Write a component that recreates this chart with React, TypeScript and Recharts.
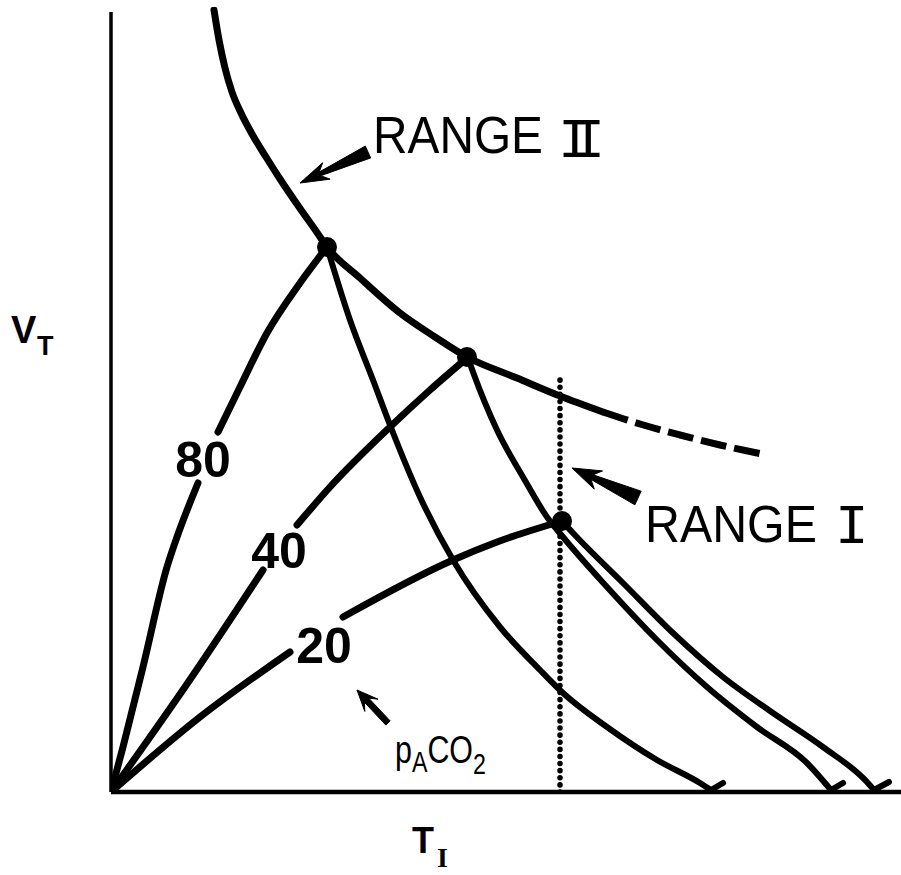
import React from "react";
import {
  ComposedChart,
  Line,
  XAxis,
  YAxis,
  ReferenceLine,
  ReferenceDot,
  Customized,
} from "recharts";

// Schematic units: T_I runs 0..790, V_T runs 0..785 (no tick values on the figure)
type Pt = { x: number; y: number | null };

// Range II boundary (hyperbola), solid part and dashed extension
const rangeTwo: Pt[] = [
  { x: 103, y: 782 }, { x: 108, y: 752 }, { x: 114, y: 724 }, { x: 121, y: 700 },
  { x: 130, y: 679 }, { x: 141, y: 658 }, { x: 155, y: 635 }, { x: 171, y: 610 },
  { x: 188, y: 585 }, { x: 205, y: 561 }, { x: 216, y: 545 }, { x: 249, y: 514 },
  { x: 289, y: 479 }, { x: 324, y: 455 }, { x: 356, y: 435 }, { x: 406, y: 414 },
  { x: 449, y: 396 }, { x: 492, y: 380 },
];
const rangeTwoDashed: Pt[] = [
  { x: 492, y: 380 }, { x: 529, y: 368 }, { x: 569, y: 357 }, { x: 609, y: 347 },
  { x: 656, y: 337 },
];

// pACO2 isopleths from the origin (null = gap for the number label)
const pco2_80: Pt[] = [
  { x: 0, y: 0 }, { x: 12, y: 45 }, { x: 32, y: 125 }, { x: 56, y: 225 },
  { x: 66, y: 255 }, { x: 87, y: 309 }, { x: 97, y: null }, { x: 107, y: 360 },
  { x: 129, y: 405 }, { x: 156, y: 459 }, { x: 189, y: 509 }, { x: 216, y: 545 },
];
const pco2_40: Pt[] = [
  { x: 0, y: 0 }, { x: 76, y: 108 }, { x: 152, y: 222 }, { x: 170, y: null },
  { x: 186, y: 267 }, { x: 219, y: 305 }, { x: 279, y: 365 }, { x: 319, y: 402 },
  { x: 356, y: 434 },
];
const pco2_20: Pt[] = [
  { x: 0, y: 0 }, { x: 89, y: 75 }, { x: 179, y: 140 }, { x: 205, y: null },
  { x: 232, y: 175 }, { x: 342, y: 232 }, { x: 386, y: 250 }, { x: 451, y: 271 },
];

// descending curves from each junction down to the T_I axis
const fall80: Pt[] = [
  { x: 216, y: 545 }, { x: 239, y: 472 }, { x: 262, y: 412 }, { x: 279, y: 367 },
  { x: 309, y: 295 }, { x: 342, y: 232 }, { x: 389, y: 165 }, { x: 429, y: 122 },
  { x: 452, y: 99 }, { x: 496, y: 65 }, { x: 546, y: 32 }, { x: 589, y: 9 },
  { x: 600, y: 2 },
];
const fall40: Pt[] = [
  { x: 357, y: 434 }, { x: 362, y: 420 }, { x: 386, y: 362 }, { x: 412, y: 315 },
  { x: 436, y: 275 }, { x: 452, y: 255 }, { x: 496, y: 205 }, { x: 546, y: 152 },
  { x: 596, y: 105 }, { x: 646, y: 65 }, { x: 696, y: 29 }, { x: 720, y: 2 },
];
const fall20: Pt[] = [
  { x: 451, y: 271 }, { x: 462, y: 259 }, { x: 512, y: 209 }, { x: 562, y: 159 },
  { x: 612, y: 115 }, { x: 662, y: 79 }, { x: 712, y: 45 }, { x: 756, y: 10 },
  { x: 763, y: 2 },
];

// little pen flicks where each curve meets the axis
const flicks: Pt[][] = [
  [{ x: 600, y: 2 }, { x: 612, y: 9 }],
  [{ x: 720, y: 2 }, { x: 732, y: 9 }],
  [{ x: 763, y: 2 }, { x: 778, y: 10 }],
];

const junctions = [
  { x: 216, y: 545 },
  { x: 356, y: 435 },
  { x: 451, y: 271 },
];

// Range I boundary (dotted vertical)
const rangeOne: Pt[] = [
  { x: 449, y: 0 },
  { x: 449, y: 415 },
];

// annotation arrows: [tail, tip]
const arrowRangeTwo = [{ x: 257, y: 640 }, { x: 189, y: 609 }];
const arrowRangeOne = [{ x: 527, y: 294 }, { x: 461, y: 324 }];
const arrowPco2 = [{ x: 277, y: 69 }, { x: 246, y: 102 }];

const INK = "#000";

function arrowShape(tailW: number, shaftW: number, headLen: number, headHalf: number) {
  return (p: any) => {
    const { x1, y1, x2, y2 } = p;
    const dx = x2 - x1;
    const dy = y2 - y1;
    const len = Math.hypot(dx, dy) || 1;
    const ux = dx / len;
    const uy = dy / len;
    const nx = -uy;
    const ny = ux;
    const bx = x2 - ux * headLen;
    const by = y2 - uy * headLen;
    const pts = [
      [x1 + (nx * tailW) / 2, y1 + (ny * tailW) / 2],
      [bx + (nx * shaftW) / 2 + ux * 4, by + (ny * shaftW) / 2 + uy * 4],
      [bx + nx * headHalf - ux * 3, by + ny * headHalf - uy * 3],
      [x2, y2],
      [bx - nx * headHalf - ux * 3, by - ny * headHalf - uy * 3],
      [bx - (nx * shaftW) / 2 + ux * 4, by - (ny * shaftW) / 2 + uy * 4],
      [x1 - (nx * tailW) / 2, y1 - (ny * tailW) / 2],
    ];
    const d = pts.map((q, i) => `${i ? "L" : "M"}${q[0]},${q[1]}`).join(" ") + " Z";
    return <path d={d} fill={INK} stroke={INK} strokeWidth={1} strokeLinejoin="round" />;
  };
}

const sans = "'Liberation Sans', Arial, Helvetica, sans-serif";
const mono = "'Liberation Mono', 'DejaVu Sans Mono', monospace";

const Labels = () => (
  <g fill={INK} fontFamily={sans}>
    <text x={373} y={153} fontSize={52} textLength={170} lengthAdjust="spacingAndGlyphs">
      RANGE
    </text>
    {/* typewriter numerals: two mono I's pushed together so the bars join */}
    <text x={558} y={157} fontSize={56} fontFamily={mono} letterSpacing={-20}>
      II
    </text>
    <text x={645} y={542} fontSize={52} textLength={172} lengthAdjust="spacingAndGlyphs">
      RANGE
    </text>
    <text x={835} y={543} fontSize={56} fontFamily={mono}>
      I
    </text>

    <g fontWeight={700} fontSize={50} textAnchor="middle">
      <text x={203} y={477}>80</text>
      <text x={279} y={568}>40</text>
      <text x={324} y={663}>20</text>
    </g>

    <g transform="translate(395,763) scale(0.8,1)" fontSize={38}>
      <text x={0} y={0}>
        p<tspan fontSize={29} dy={9}>A</tspan>
        <tspan fontSize={38} dy={-9}>CO</tspan>
        <tspan fontSize={29} dy={11}>2</tspan>
      </text>
    </g>

    <g fontWeight={700}>
      <text x={11} y={343} fontSize={38}>V</text>
      <text x={37} y={355} fontSize={27}>T</text>
      <text x={412} y={853} fontSize={36}>T</text>
      <text x={437} y={867} fontSize={28} fontFamily="'Liberation Serif', serif">I</text>
    </g>
  </g>
);

const lineStyle = {
  stroke: INK,
  strokeLinecap: "round" as const,
  strokeLinejoin: "round" as const,
  dot: false,
  activeDot: false,
  isAnimationActive: false,
  type: "monotone" as const,
  dataKey: "y",
};

export default function App() {
  return (
    <div style={{ position: "absolute", left: 0, top: 0, background: "#fff" }}>
      <ComposedChart
        width={901}
        height={875}
        margin={{ top: 7, right: 0, bottom: 83, left: 111 }}
      >
        <XAxis type="number" dataKey="x" domain={[0, 790]} hide allowDataOverflow />
        <YAxis type="number" dataKey="y" domain={[0, 785]} hide allowDataOverflow />

        {/* axes */}
        <ReferenceLine segment={[{ x: 0, y: 0 }, { x: 0, y: 780 }]} stroke={INK} strokeWidth={3.5} />
        <ReferenceLine segment={[{ x: 0, y: 0 }, { x: 790, y: 0 }]} stroke={INK} strokeWidth={4.5} />

        {/* Range I dotted boundary */}
        <Line
          {...lineStyle}
          type="linear"
          data={rangeOne}
          strokeWidth={5.5}
          strokeDasharray="0.1 7"
        />

        <Line {...lineStyle} data={rangeTwo} strokeWidth={7} />
        <Line {...lineStyle} data={rangeTwoDashed} strokeWidth={7} strokeDasharray="26 8" strokeLinecap="butt" />

        <Line {...lineStyle} data={pco2_80} strokeWidth={7} />
        <Line {...lineStyle} data={pco2_40} strokeWidth={7} />
        <Line {...lineStyle} data={pco2_20} strokeWidth={7} />

        <Line {...lineStyle} data={fall80} strokeWidth={6} />
        <Line {...lineStyle} data={fall40} strokeWidth={6} />
        <Line {...lineStyle} data={fall20} strokeWidth={6} />
        {flicks.map((f, i) => (
          <Line key={i} {...lineStyle} type="linear" data={f} strokeWidth={6} />
        ))}

        {junctions.map((j, i) => (
          <ReferenceDot key={i} x={j.x} y={j.y} r={10} fill={INK} stroke="none" />
        ))}

        <ReferenceLine segment={arrowRangeTwo} shape={arrowShape(13, 4, 26, 9)} />
        <ReferenceLine segment={arrowRangeOne} shape={arrowShape(15, 5, 26, 10)} />
        <ReferenceLine segment={arrowPco2} shape={arrowShape(6, 6, 18, 9)} />

        <Customized component={Labels} />
      </ComposedChart>
    </div>
  );
}
